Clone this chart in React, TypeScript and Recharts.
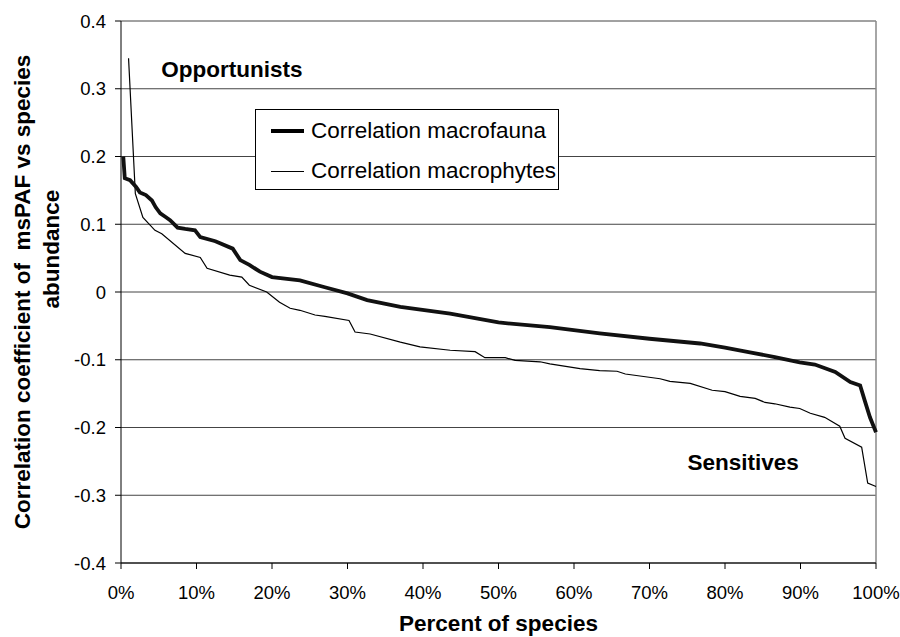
import { LineChart, Line, XAxis, YAxis, CartesianGrid, ReferenceLine, ReferenceDot, Legend, Label } from 'recharts';

// percent of species (x) and correlation values
const faunaPct = [0.3, 0.5, 1.2, 2.0, 2.5, 3.3, 4.1, 4.6, 5.2, 6.0, 6.5, 7.5, 8.5, 9.8, 10.5, 12.5, 14.8, 15.8, 17, 18.4, 20, 23.7, 27, 30, 32.6, 37, 43.6, 50, 56.8, 63.4, 70, 76.7, 80, 83.3, 86.6, 89.9, 91.9, 94.6, 96.6, 97.9, 98.5, 99.2, 100];
const faunaCorr = [0.2, 0.168, 0.165, 0.155, 0.147, 0.143, 0.135, 0.125, 0.116, 0.11, 0.106, 0.095, 0.093, 0.091, 0.081, 0.075, 0.064, 0.047, 0.04, 0.03, 0.022, 0.017, 0.007, -0.002, -0.012, -0.022, -0.032, -0.045, -0.052, -0.061, -0.069, -0.076, -0.082, -0.089, -0.096, -0.104, -0.107, -0.118, -0.133, -0.138, -0.16, -0.185, -0.207];

const phytesPct = [1.0, 1.9, 2.9, 4.5, 5.4, 8.5, 10.5, 11.4, 14.4, 16, 17, 19.3, 21, 22.4, 23.7, 25.7, 27, 30.2, 31, 33, 37, 39.6, 43.6, 46.9, 48.2, 50.9, 52.2, 55.5, 56.8, 60.8, 63.4, 65.7, 66.8, 71.4, 72.7, 75.4, 78.3, 80, 82, 84, 85.3, 86.6, 88.6, 89.9, 91.3, 93.2, 95.2, 95.9, 98.1, 98.9, 100];
const phytesCorr = [0.345, 0.145, 0.11, 0.091, 0.086, 0.057, 0.051, 0.035, 0.025, 0.022, 0.01, 0, -0.015, -0.024, -0.027, -0.034, -0.036, -0.042, -0.059, -0.062, -0.074, -0.081, -0.086, -0.088, -0.097, -0.097, -0.101, -0.103, -0.106, -0.113, -0.116, -0.117, -0.121, -0.128, -0.132, -0.135, -0.145, -0.147, -0.154, -0.157, -0.163, -0.165, -0.17, -0.172, -0.179, -0.185, -0.198, -0.216, -0.229, -0.282, -0.287];

const xTicks = [0, 10, 20, 30, 40, 50, 60, 70, 80, 90, 100];
const yTicks = [-0.4, -0.3, -0.2, -0.1, 0, 0.1, 0.2, 0.3, 0.4];

const fauna = faunaPct.map((x, i) => ({ x, y: faunaCorr[i] }));
const phytes = phytesPct.map((x, i) => ({ x, y: phytesCorr[i] }));

const FONT = 'Arial, "Liberation Sans", sans-serif';
const tickStyle = { fontSize: 18.5, fill: '#000', fontFamily: FONT };
const boldStyle = { fontSize: 22.5, fontWeight: 'bold', fill: '#000', fontFamily: FONT };

const legendRow = (top: number, thickness: number, text: string) => (
    <div style={{ position: 'absolute', left: 15, top, transform: 'translateY(-50%)', display: 'flex', alignItems: 'center', whiteSpace: 'nowrap' }}>
        <span style={{ display: 'inline-block', width: 33, height: thickness, background: '#000', marginRight: 7 }} />
        {text}
    </div>
);

const renderLegend = () => (
    <div style={{ position: 'relative', boxSizing: 'border-box', width: 304, height: 81, border: '1px solid #000', background: '#fff', fontFamily: FONT, fontSize: 22.5, color: '#000' }}>
        {legendRow(21, 4, 'Correlation macrofauna')}
        {legendRow(61, 1, 'Correlation macrophytes')}
    </div>
);

const YTitle = ({ viewBox }: any) => {
    const cy = viewBox.y + viewBox.height / 2;
    const y1 = cy;
    const y2 = cy - 43;
    return (
        <g fontFamily={FONT} fontSize={22.5} fontWeight="bold" fill="#000">
            <text x={22} y={y1} textAnchor="middle" dominantBaseline="central" transform={`rotate(-90, 22, ${y1})`} style={{ whiteSpace: 'pre' }}>
                Correlation coefficient of  msPAF vs species
            </text>
            <text x={51} y={y2} textAnchor="middle" dominantBaseline="central" transform={`rotate(-90, 51, ${y2})`}>
                abundance
            </text>
        </g>
    );
};

export default function App() {
    return (
        <div style={{ position: 'fixed', left: 0, top: 0, background: '#fff' }}>
            <LineChart width={900} height={637} margin={{ top: 21, right: 24, left: 0, bottom: 44 }}>
                <CartesianGrid vertical={false} stroke="#444" strokeWidth={1} horizontalValues={yTicks} />
                <ReferenceLine x={100} stroke="#888" strokeWidth={1.5} />
                <XAxis
                    type="number"
                    dataKey="x"
                    domain={[0, 100]}
                    ticks={xTicks}
                    tickFormatter={(v) => `${v}%`}
                    tick={tickStyle}
                    tickSize={6}
                    tickMargin={17}
                    stroke="#000"
                    height={30}
                    allowDuplicatedCategory={false}
                >
                    <Label value="Percent of species" position="insideBottom" offset={-38} style={boldStyle} />
                </XAxis>
                <YAxis
                    type="number"
                    domain={[-0.4, 0.4]}
                    ticks={yTicks}
                    tickFormatter={(v) => (v === 0 ? '0' : v.toFixed(1))}
                    tick={tickStyle}
                    tickSize={6}
                    tickMargin={9}
                    stroke="#000"
                    width={121}
                    label={<YTitle />}
                />
                <Legend
                    layout="vertical"
                    align="center"
                    verticalAlign="middle"
                    content={renderLegend}
                    wrapperStyle={{ left: 255, top: 109, width: 304 }}
                />
                <Line data={phytes} dataKey="y" type="linear" stroke="#000" strokeWidth={1.2} dot={false} isAnimationActive={false} name="Correlation macrophytes" />
                <Line data={fauna} dataKey="y" type="linear" stroke="#111" strokeWidth={3.8} dot={false} isAnimationActive={false} name="Correlation macrofauna" />
                <ReferenceDot x={14.7} y={0.329} r={0} stroke="none" fill="none" label={{ value: 'Opportunists', position: 'center', style: boldStyle }} />
                <ReferenceDot x={82.4} y={-0.2516} r={0} stroke="none" fill="none" label={{ value: 'Sensitives', position: 'center', style: boldStyle }} />
            </LineChart>
        </div>
    );
}
